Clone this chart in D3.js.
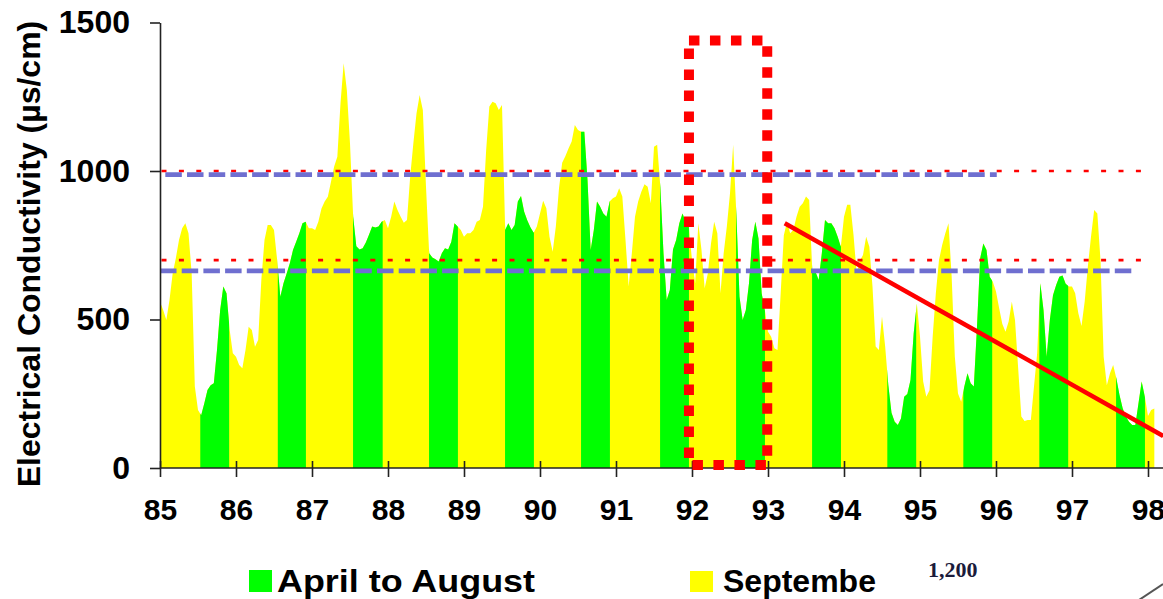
<!DOCTYPE html>
<html><head><meta charset="utf-8">
<script src="https://cdn.jsdelivr.net/npm/d3@7"></script>
<style>
body{margin:0;background:#fff;}
svg{display:block;}
text{font-family:"Liberation Sans",Arial,Helvetica,sans-serif;}
</style>
</head><body>
<svg id="chart" width="1163" height="599"></svg>
<script>
// ---- data (semi-monthly electrical conductivity, µs/cm) ----
const yearTicks = [85,86,87,88,89,90,91,92,93,94,95,96,97,98];
const yTicks = [0,500,1000,1500];
const ec1985 = [560,532,498,566,655,706,768,807,824,790,655,274,195,178,218,263,279,285,397,532,611,588,465,386];
const ec1986 = [375,347,336,397,476,465,408,431,633,768,818,818,801,700,577,622,655,689,734,762,790,824,829,807];
const ec1987 = [807,801,829,874,897,913,964,1015,1048,1228,1363,1273,1093,846,747,736,740,759,785,813,810,813,829,835];
const ec1988 = [807,846,897,869,846,826,835,981,1093,1194,1256,1205,947,723,709,703,695,723,740,736,762,824,813,801];
const ec1989 = [779,790,790,801,829,835,880,1071,1217,1233,1228,1205,1222,801,824,801,818,897,916,863,833,810,792,813];
const ec1990 = [857,900,875,779,728,813,942,1028,1050,1076,1099,1155,1138,1132,1132,970,734,801,897,880,857,846,897,908];
const ec1991 = [914,942,914,768,611,723,846,897,930,955,947,891,1082,1088,947,723,566,599,736,768,824,857,829,813];
const ec1992 = [700,622,824,734,605,655,756,829,790,588,723,813,925,1088,857,577,498,532,622,768,829,773,588,532];
const ec1993 = [459,442,403,397,588,784,829,790,801,846,880,891,914,902,661,661,633,723,835,824,824,807,779,745];
const ec1994 = [846,886,886,785,655,698,717,779,745,611,409,397,510,409,279,186,156,145,167,240,249,296,453,554];
const ec1995 = [442,291,240,262,442,588,700,751,790,824,644,375,251,223,274,319,285,274,476,706,756,734,644,627];
const ec1996 = [594,538,485,459,493,560,498,336,173,158,162,162,274,386,622,532,375,498,582,616,644,648,620,611];
const ec1997 = [611,588,521,478,560,678,779,869,857,700,375,279,319,347,302,246,201,173,156,145,145,218,291,240];
const ec1998 = [175,195,200];
const seriesYears = [85,86,87,88,89,90,91,92,93,94,95,96,97,98];
const seriesValues = [ec1985,ec1986,ec1987,ec1988,ec1989,ec1990,ec1991,ec1992,ec1993,ec1994,ec1995,ec1996,ec1997,ec1998];
// April–August season bounds (decimal year on the axis)
const greenStart = [85.53,86.55,87.54,88.54,89.54,90.54,91.58,92.58,93.58,94.57,95.57,96.57,97.58];
const greenEnd   = [85.91,86.92,87.93,88.92,89.92,90.92,91.96,92.96,93.96,94.95,95.95,96.95,97.96];
// reference lines
const redLevels = [1000, 700];
const blueLevels = [988, 664];
const blueFrom = [85.07, 85.0];
const blueTo = [96.01, 97.83];
const trendT = [93.22, 98.2];
const trendV = [824, 108];
const boxT = [91.96, 92.99];
const boxV = [10, 1439];

// ---- drawing ----
const svg = d3.select('#chart');
svg.append('rect').attr('width',1163).attr('height',599).attr('fill','#fff');
const x = d3.scaleLinear().domain([85,98]).range([160,1148]);
const y = d3.scaleLinear().domain([0,1500]).range([468,22.5]);

const pts = [];
seriesYears.forEach((yr,k)=>{
  seriesValues[k].forEach((v,i)=>pts.push({t: yr + i/24, v}));
});

const area = d3.area().x(d=>x(d.t)).y0(y(0)).y1(d=>y(d.v));

const defs = svg.append('defs');
const clip = defs.append('clipPath').attr('id','greenClip');
greenStart.forEach((s,i)=>{
  clip.append('rect').attr('x',x(s)).attr('y',0)
    .attr('width',x(greenEnd[i])-x(s)).attr('height',600);
});
defs.append('clipPath').attr('id','legendCut')
  .append('rect').attr('x',680).attr('y',540).attr('width',197).attr('height',60);

svg.append('path').datum(pts).attr('d',area).attr('fill','#ffff00');
svg.append('path').datum(pts).attr('d',area).attr('fill','#00ff00').attr('clip-path','url(#greenClip)');

// red dotted levels
redLevels.forEach(v=>{
  svg.append('line').attr('x1',x(85)+1.5).attr('x2',x(98)).attr('y1',y(v)).attr('y2',y(v))
    .attr('stroke','#ff0000').attr('stroke-width',2.7).attr('stroke-dasharray','5,12.4');
});
// blue dashed levels
blueLevels.forEach((v,i)=>{
  svg.append('line').attr('x1',x(blueFrom[i])).attr('x2',x(blueTo[i])).attr('y1',y(v)).attr('y2',y(v))
    .attr('stroke','#6f6fd0').attr('stroke-width',4.7).attr('stroke-dasharray','16.5,5.2');
});

// axes
const yAxis = d3.axisLeft(y).tickValues(yTicks).tickSize(10).tickSizeOuter(0).tickPadding(20).tickFormat(d3.format('d'));
const gy = svg.append('g').attr('transform','translate(160,0)').call(yAxis);
gy.select('.domain').attr('stroke','#222').attr('stroke-width',1.6);
gy.selectAll('.tick line').attr('stroke','#222').attr('stroke-width',1.6);
gy.selectAll('.tick text').attr('font-size',32).attr('font-weight','bold').attr('fill','#000')
  .style('font-family','"Liberation Sans",Arial,sans-serif');

const xAxis = d3.axisBottom(x).tickValues(yearTicks).tickSize(9).tickSizeOuter(0).tickFormat(d3.format('d'));
const gx = svg.append('g').attr('transform','translate(0,468)').call(xAxis);
gx.select('.domain').remove();
gx.append('line').attr('x1',160).attr('x2',1163).attr('y1',0).attr('y2',0).attr('stroke','#222').attr('stroke-width',1.6);
gx.selectAll('.tick line').attr('y1',-7).attr('stroke','#222').attr('stroke-width',1.6);
gx.selectAll('.tick text').attr('y',52).attr('dy',0).attr('font-size',30).attr('font-weight','bold').attr('fill','#000')
  .style('font-family','"Liberation Sans",Arial,sans-serif');

// y-axis title
svg.append('text').attr('transform','translate(40,254) rotate(-90)').attr('text-anchor','middle')
  .attr('font-size',32).attr('font-weight','bold').attr('fill','#000')
  .text('Electrical Conductivity (µs/cm)');

// trend line
svg.append('line').attr('x1',x(trendT[0])).attr('y1',y(trendV[0])).attr('x2',x(trendT[1])).attr('y2',y(trendV[1]))
  .attr('stroke','#ff0000').attr('stroke-width',4.5);

// dotted highlight box
svg.append('rect').attr('x',x(boxT[0])).attr('y',y(boxV[1]))
  .attr('width',x(boxT[1])-x(boxT[0])).attr('height',y(boxV[0])-y(boxV[1]))
  .attr('fill','none').attr('stroke','#ff0000').attr('stroke-width',10).attr('stroke-dasharray','10.5,10.5');

// legend
svg.append('rect').attr('x',249).attr('y',570).attr('width',23).attr('height',22).attr('fill','#00ff00');
svg.append('text').attr('x',277).attr('y',592).attr('font-size',32).attr('font-weight','bold')
  .attr('textLength',258).attr('lengthAdjust','spacingAndGlyphs').text('April to August');
svg.append('rect').attr('x',690).attr('y',571).attr('width',23).attr('height',21).attr('fill','#ffff00');
svg.append('text').attr('x',723).attr('y',592).attr('font-size',32).attr('font-weight','bold')
  .attr('clip-path','url(#legendCut)').text('Septembe');
// overlapping cut-off inset
svg.append('text').attr('x',928).attr('y',577).attr('font-size',22).attr('fill','#1b1b3b')
  .style('font-family','"Liberation Serif","Times New Roman",serif').attr('font-weight','bold').text('1,200');
svg.append('line').attr('x1',1139).attr('y1',600).attr('x2',1163).attr('y2',584).attr('stroke','#555').attr('stroke-width',2);
</script>
</body></html>
